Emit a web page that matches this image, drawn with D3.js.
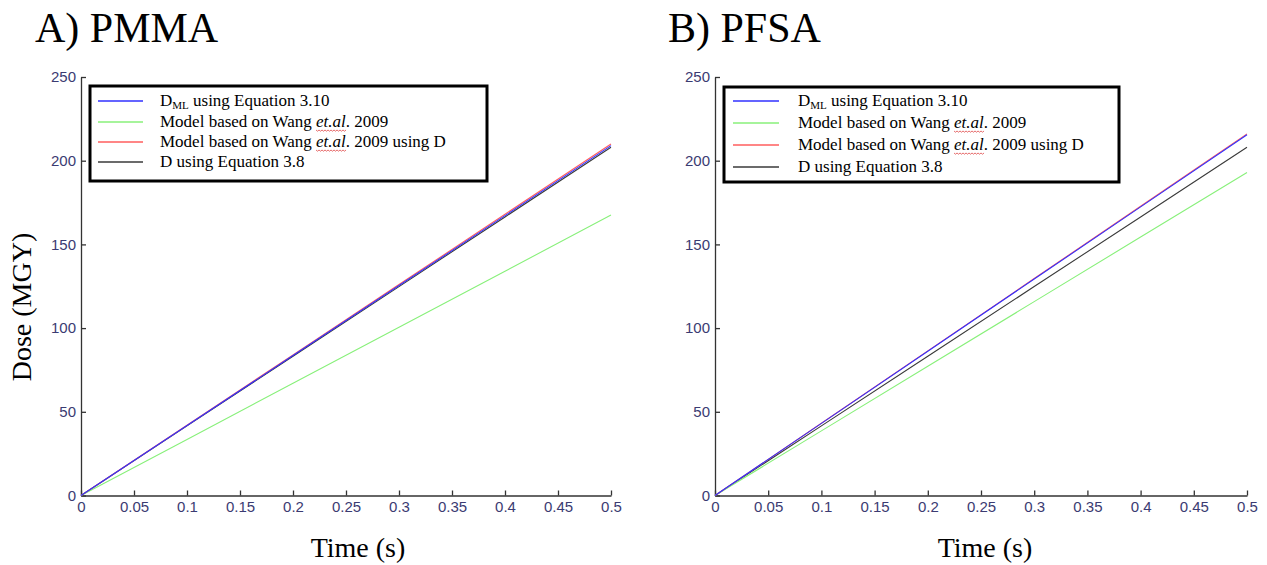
<!DOCTYPE html>
<html>
<head>
<meta charset="utf-8">
<script src="https://cdn.jsdelivr.net/npm/d3@7"></script>
<style>
  body { margin: 0; background: #fff; }
  svg { display: block; }
  .serif { font-family: "Times New Roman", "Liberation Serif", serif; fill: #000; }
</style>
</head>
<body>
<svg id="chart" width="1267" height="565"></svg>
<script>
const W = 1267, H = 565;

// time samples (s)
const times = [0, 0.1, 0.2, 0.3, 0.4, 0.5];

// PMMA panel (MGy)
const pmmaDml   = [0, 41.8, 83.6, 125.4, 167.2, 209];
const pmmaWang  = [0, 33.5, 67, 100.5, 134, 167.5];
const pmmaWangD = [0, 42, 84, 126, 168, 210];
const pmmaD     = [0, 41.6, 83.2, 124.8, 166.4, 208];

// PFSA panel (MGy)
const pfsaDml   = [0, 43.1, 86.2, 129.3, 172.4, 215.5];
const pfsaWang  = [0, 38.6, 77.2, 115.8, 154.4, 193];
const pfsaWangD = [0, 43.2, 86.4, 129.6, 172.8, 216];
const pfsaD     = [0, 41.6, 83.2, 124.8, 166.4, 208];

const xTicks = [0, 0.05, 0.1, 0.15, 0.2, 0.25, 0.3, 0.35, 0.4, 0.45, 0.5];
const yTicks = [0, 50, 100, 150, 200, 250];

const seriesColors = ["#3030ff", "#88f07a", "#ff5e5e", "#3a3a3a"];
const legendRows = [
  [{ t: "D" }, { t: "ML", sub: true }, { t: " using Equation 3.10", up: true }],
  [{ t: "Model based on Wang " }, { t: "et.al", it: true }, { t: ". 2009" }],
  [{ t: "Model based on Wang " }, { t: "et.al", it: true }, { t: ". 2009 using D" }],
  [{ t: "D using Equation 3.8" }]
];

const panels = [
  { title: "A) PMMA", titleX: 35, left: 81, right: 611, showYLabel: true, xLabelX: 358,
    series: [pmmaDml, pmmaWang, pmmaWangD, pmmaD],
    legend: { x: 90, y: 86, w: 397, h: 95, lx: 98, lw: 45, tx: 160, rows: [101, 122, 142, 162] } },
  { title: "B) PFSA", titleX: 668, left: 715, right: 1247, showYLabel: false, xLabelX: 985,
    series: [pfsaDml, pfsaWang, pfsaWangD, pfsaD],
    legend: { x: 724, y: 87, w: 395, h: 95, lx: 733, lw: 46, tx: 798, rows: [101, 123, 145, 167] } }
];

const svg = d3.select("#chart");
const plotTop = 77, plotBottom = 495.5;

function styleAxis(a) {
  a.select(".domain").attr("stroke", "#333").attr("stroke-width", 1.3);
  a.selectAll(".tick line").attr("stroke", "#333").attr("stroke-width", 1.3);
  a.selectAll(".tick text")
    .attr("fill", "#3b3b72")
    .style("font-family", "Arial, 'Liberation Sans', sans-serif")
    .style("font-size", "15px");
}

panels.forEach(p => {
  const x = d3.scaleLinear().domain([0, 0.5]).range([p.left, p.right]);
  const y = d3.scaleLinear().domain([0, 250]).range([plotBottom, plotTop]);
  const g = svg.append("g");

  g.append("text").attr("class", "serif")
    .attr("x", p.titleX).attr("y", 42)
    .style("font-size", "42px")
    .text(p.title);

  // axes, ticks pointing inward like matlab
  const xAxis = g.append("g").attr("transform", `translate(0,${plotBottom})`)
    .call(d3.axisBottom(x).tickValues(xTicks).tickSizeInner(-5).tickSizeOuter(0).tickPadding(6).tickFormat(d3.format("")));
  const yAxis = g.append("g").attr("transform", `translate(${p.left},0)`)
    .call(d3.axisLeft(y).tickValues(yTicks).tickSizeInner(-5).tickSizeOuter(0).tickPadding(5));
  styleAxis(xAxis);
  styleAxis(yAxis);

  const line = d3.line().x((d, i) => x(times[i])).y(d => y(d));
  // draw black, green first, then red and blue on top
  [3, 1, 2, 0].forEach(i => {
    g.append("path").datum(p.series[i])
      .attr("fill", "none")
      .attr("stroke", seriesColors[i])
      .attr("stroke-width", 1.1)
      .attr("d", line);
  });

  // legend
  const L = p.legend;
  g.append("rect").attr("x", L.x).attr("y", L.y).attr("width", L.w).attr("height", L.h)
    .attr("fill", "#fff").attr("stroke", "#000").attr("stroke-width", 3);
  legendRows.forEach((row, i) => {
    const ry = L.rows[i];
    g.append("line").attr("x1", L.lx).attr("x2", L.lx + L.lw)
      .attr("y1", ry).attr("y2", ry)
      .attr("stroke", seriesColors[i]).attr("stroke-width", 1.3);
    const t = g.append("text").attr("class", "serif")
      .attr("x", L.tx).attr("y", ry + 5)
      .style("font-size", "17px");
    let charPos = 0;
    const wavy = [];
    row.forEach(part => {
      const s = t.append("tspan").text(part.t);
      if (part.sub) s.style("font-size", "11px").attr("dy", 3);
      if (part.up) s.attr("dy", -3);
      if (part.it) {
        s.style("font-style", "italic");
        wavy.push([charPos, charPos + part.t.length - 1]);
      }
      charPos += part.t.length;
    });
    // spell-check style wavy underline under "et.al"
    wavy.forEach(([a, b]) => {
      const x0 = t.node().getStartPositionOfChar(a).x;
      const x1 = t.node().getEndPositionOfChar(b).x;
      const yy = ry + 8;
      let d = `M${x0},${yy}`;
      for (let xx = x0, k = 0; xx < x1; xx += 1.5, k++) {
        d += `L${xx + 1.5},${yy + (k % 2 ? 0 : 1.2)}`;
      }
      g.append("path").attr("d", d).attr("fill", "none")
        .attr("stroke", "#e04848").attr("stroke-width", 0.8);
    });
  });

  g.append("text").attr("class", "serif")
    .attr("x", p.xLabelX).attr("y", 557)
    .attr("text-anchor", "middle")
    .style("font-size", "28px")
    .text("Time (s)");

  if (p.showYLabel) {
    g.append("text").attr("class", "serif")
      .attr("transform", `translate(31,307) rotate(-90)`)
      .attr("text-anchor", "middle")
      .style("font-size", "28px")
      .text("Dose (MGY)");
  }
});
</script>
</body>
</html>
